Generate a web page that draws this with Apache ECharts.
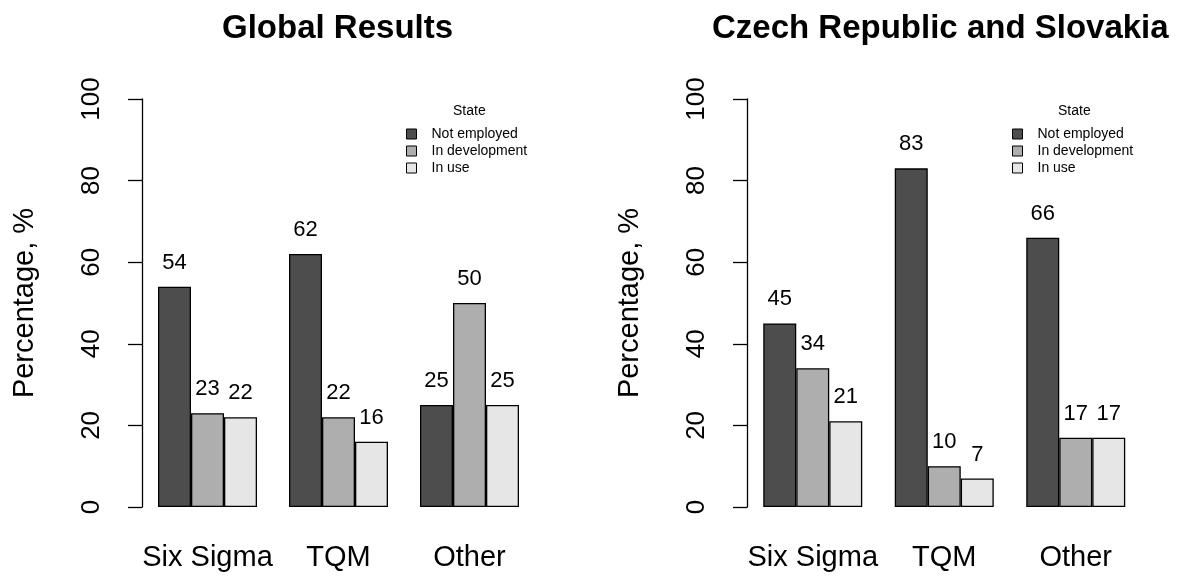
<!DOCTYPE html>
<html><head><meta charset="utf-8">
<script src="https://cdn.jsdelivr.net/npm/echarts@6/dist/echarts.min.js"></script>
<style>html,body{margin:0;padding:0;background:#fff}#c{width:1182px;height:577px}</style>
</head><body><div id="c"></div>
<script>
const categories = ['Six Sigma', 'TQM', 'Other'];
const seriesNames = ['Not employed', 'In development', 'In use'];
const globalNotEmployed = [54, 62, 25];
const globalInDevelopment = [23, 22, 50];
const globalInUse = [22, 16, 25];
const czskNotEmployed = [45, 83, 66];
const czskInDevelopment = [34, 10, 17];
const czskInUse = [21, 7, 17];
const yTicks = [0, 20, 40, 60, 80, 100];
const panelTitles = ['Global Results', 'Czech Republic and Slovakia'];
const colors = ['#4D4D4D', '#AEAEAE', '#E6E6E6'];

const FONT = '"Liberation Sans", Arial, Helvetica, sans-serif';
const panels = [
  [globalNotEmployed, globalInDevelopment, globalInUse],
  [czskNotEmployed, czskInDevelopment, czskInUse]
];
const grids = [
  {left: 142, width: 393, top: 99, bottom: 70},
  {left: 747, width: 394.5, top: 99, bottom: 70}
];

const option = {
  backgroundColor: '#fff',
  animation: false,
  textStyle: {fontFamily: FONT},
  title: [
    {text: panelTitles[0], left: 217, top: 7, textStyle: {fontFamily: FONT, fontSize: 33, fontWeight: 'bold', color: '#000'}},
    {text: panelTitles[1], left: 707, top: 7, textStyle: {fontFamily: FONT, fontSize: 33, fontWeight: 'bold', color: '#000'}},
    {text: 'State', left: 448, top: 99, textStyle: {fontFamily: FONT, fontSize: 14, fontWeight: 'normal', color: '#000'}},
    {text: 'State', left: 1053, top: 99, textStyle: {fontFamily: FONT, fontSize: 14, fontWeight: 'normal', color: '#000'}}
  ],
  legend: [406, 1012].map(l => ({
    orient: 'vertical', left: l, top: 127, padding: 0, itemGap: 3,
    itemWidth: 10, itemHeight: 10, icon: 'rect',
    itemStyle: {borderColor: '#000', borderWidth: 1},
    textStyle: {fontFamily: FONT, fontSize: 14, color: '#000', padding: [0, 0, 0, 10]},
    data: seriesNames
  })),
  grid: grids,
  xAxis: grids.map((g, i) => ({
    type: 'category', gridIndex: i, data: categories,
    axisLine: {show: false}, axisTick: {show: false},
    axisLabel: {fontFamily: FONT, fontSize: 29, color: '#000', margin: 36, interval: 0, hideOverlap: false}
  })),
  yAxis: grids.map((g, i) => ({
    type: 'value', gridIndex: i, min: yTicks[0], max: yTicks[yTicks.length - 1], interval: 20,
    name: 'Percentage, %', nameLocation: 'middle', nameRotate: 90, nameGap: 103,
    nameTextStyle: {fontFamily: FONT, fontSize: 29, color: '#000'},
    axisLine: {show: true, lineStyle: {color: '#000', width: 1.3}},
    axisTick: {show: true, length: 14, lineStyle: {color: '#000', width: 1.3}},
    splitLine: {show: false},
    axisLabel: {fontFamily: FONT, fontSize: 26, color: '#000', rotate: 90, margin: 37}
  })),
  series: []
};
panels.forEach((vals, p) => {
  vals.forEach((arr, k) => {
    option.series.push({
      type: 'bar', name: seriesNames[k], xAxisIndex: p, yAxisIndex: p,
      data: arr, barWidth: 33, barGap: '0%',
      itemStyle: {color: colors[k], borderColor: '#000', borderWidth: 1.3},
      label: {show: true, position: 'top', distance: 13, fontFamily: FONT, fontSize: 22, color: '#000'}
    });
  });
});
const chart = echarts.init(document.getElementById('c'), null, {renderer: 'canvas'});
chart.setOption(option);
</script></body></html>
